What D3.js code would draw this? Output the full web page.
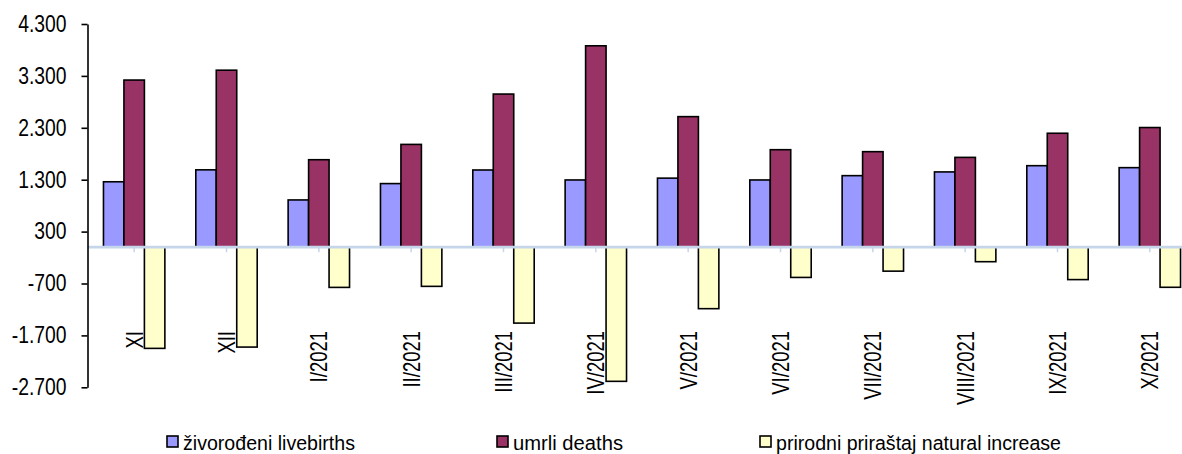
<!DOCTYPE html>
<html>
  <head>
    <meta charset="UTF-8" />
    <title>Živorođeni, umrli i prirodni priraštaj</title>
    <script src="https://d3js.org/d3.v7.min.js"></script>
    <style>
      * {
        margin: 0;
        padding: 0;
        box-sizing: border-box;
      }
      body {
        background-color: #ffffff;
        overflow: hidden;
      }
      svg {
        display: block;
      }
      text {
        font-family: Arial, "Liberation Sans", sans-serif;
        fill: #000000;
      }
    </style>
  </head>
  <body>
    <svg id="chart" width="1182" height="454"></svg>
  </body>
  <script>
    // data
    const months = ["XI", "XII", "I/2021", "II/2021", "III/2021", "IV/2021",
      "V/2021", "VI/2021", "VII/2021", "VIII/2021", "IX/2021", "X/2021"];
    const livebirths = [1260, 1490, 910, 1225, 1487, 1295, 1330, 1295, 1378, 1450, 1570, 1532];
    const deaths = [3220, 3410, 1685, 1980, 2950, 3880, 2515, 1878, 1840, 1730, 2195, 2305];
    const naturalIncrease = [-1950, -1925, -775, -755, -1463, -2585, -1185, -583, -462, -280, -625, -773];
    const yTicks = [-2700, -1700, -700, 300, 1300, 2300, 3300, 4300];
    const seriesNames = ["živorođeni livebirths", "umrli deaths", "prirodni priraštaj natural increase"];
    const seriesColors = ["#9999ff", "#993366", "#ffffcc"];

    const series = [livebirths, deaths, naturalIncrease];
    const svg = d3.select("#chart");

    const x0 = d3.scaleBand()
      .domain(months)
      .range([88, 1196])
      .paddingInner(0.335)
      .paddingOuter(0.1675);

    const x1 = d3.scaleBand()
      .domain([0, 1, 2])
      .range([0, x0.bandwidth()]);

    const y = d3.scaleLinear()
      .domain([-2700, 4300])
      .range([387.3, 24]);

    // compress text along its length (the original uses a narrow face)
    function squeeze(sel, ratio) {
      sel.each(function () {
        const len = this.getComputedTextLength();
        d3.select(this)
          .attr("textLength", len * ratio)
          .attr("lengthAdjust", "spacingAndGlyphs");
      });
    }

    // bars
    const groups = svg.append("g")
      .selectAll("g")
      .data(months)
      .join("g")
      .attr("transform", (d) => `translate(${x0(d)},0)`);

    groups.selectAll("rect")
      .data((d, i) => series.map((s, k) => ({ k: k, v: s[i] })))
      .join("rect")
      .attr("x", (d) => x1(d.k))
      .attr("width", x1.bandwidth())
      .attr("y", (d) => y(Math.max(0, d.v)))
      .attr("height", (d) => Math.abs(y(d.v) - y(0)))
      .attr("fill", (d) => seriesColors[d.k])
      .attr("stroke", "#000000")
      .attr("stroke-width", 1.6);

    // zero line with small ticks at the month centres
    svg.append("line")
      .attr("x1", 88)
      .attr("x2", 1182)
      .attr("y1", y(0))
      .attr("y2", y(0))
      .attr("stroke", "#c5d6ea")
      .attr("stroke-width", 2.6);

    svg.append("g")
      .selectAll("line")
      .data(months)
      .join("line")
      .attr("x1", (d) => x0(d) + x0.bandwidth() / 2)
      .attr("x2", (d) => x0(d) + x0.bandwidth() / 2)
      .attr("y1", y(0))
      .attr("y2", y(0) + 5)
      .attr("stroke", "#c5d6ea")
      .attr("stroke-width", 1.5);

    // y axis
    const yAxis = svg.append("g")
      .attr("transform", "translate(87.5,0)")
      .call(d3.axisLeft(y).tickValues(yTicks).tickSize(6).tickSizeOuter(0)
        .tickPadding(15)
        .tickFormat((d) => d3.format(",")(d).replace(/,/g, ".").replace("\u2212", "-")));
    yAxis.select(".domain").attr("stroke", "#000000").attr("stroke-width", 1.6);
    yAxis.selectAll(".tick line").attr("stroke", "#000000").attr("stroke-width", 1.6);
    yAxis.selectAll(".tick text")
      .attr("font-size", 23)
      .attr("font-family", "Arial, 'Liberation Sans', sans-serif")
      .call(squeeze, 0.84);

    // month labels, rotated
    svg.append("g")
      .selectAll("text")
      .data(months)
      .join("text")
      .attr("transform", (d) => `translate(${x0(d) + x0.bandwidth() / 2},331) rotate(-90)`)
      .attr("text-anchor", "end")
      .attr("dy", "0.36em")
      .attr("font-size", 24)
      .text((d) => d)
      .call(squeeze, 0.77);

    // legend
    const legendX = [167, 497, 760];
    const legendW = [172, 110, 285];
    const legend = svg.append("g")
      .selectAll("g")
      .data(seriesNames)
      .join("g")
      .attr("transform", (d, i) => `translate(${legendX[i]},436)`);

    legend.append("rect")
      .attr("width", 11)
      .attr("height", 11)
      .attr("fill", (d, i) => seriesColors[i])
      .attr("stroke", "#000000")
      .attr("stroke-width", 1.6);

    legend.append("text")
      .attr("x", 16)
      .attr("y", 13.5)
      .attr("font-size", 20)
      .attr("textLength", (d, i) => legendW[i])
      .attr("lengthAdjust", "spacingAndGlyphs")
      .text((d) => d);
  </script>
</html>
